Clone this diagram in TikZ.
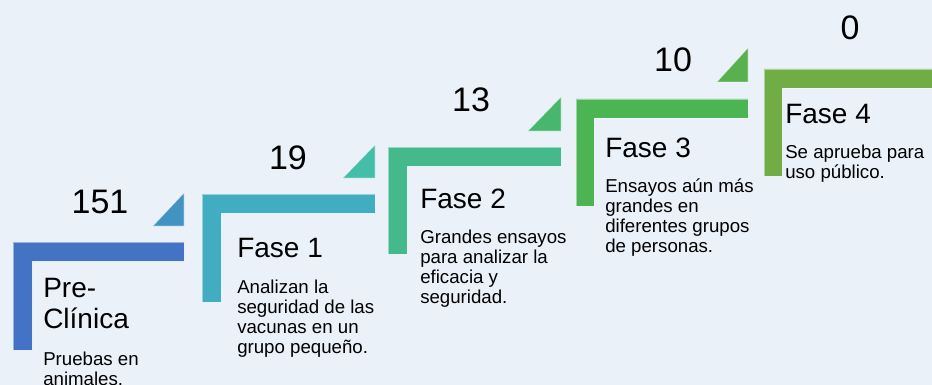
\documentclass[tikz,border=0pt]{standalone}
\usepackage{fontspec}
\setmainfont{Liberation Sans}
\definecolor{bgc}{HTML}{EBF1F9}
\definecolor{barA}{HTML}{4472C4}
\definecolor{triA}{HTML}{4393C2}
\definecolor{barB}{HTML}{42ADC0}
\definecolor{triB}{HTML}{44BDA9}
\definecolor{barC}{HTML}{45B98C}
\definecolor{triC}{HTML}{48B76E}
\definecolor{barD}{HTML}{4DB454}
\definecolor{triD}{HTML}{58B04E}
\definecolor{barE}{HTML}{70AD47}
\tikzset{
  shapeline/.style={draw=white, draw opacity=0.45, line width=0.5pt},
  numtext/.style={anchor=base, inner sep=0pt, font=\fontsize{25.5pt}{28pt}\selectfont},
  titletext/.style={anchor=base west, inner sep=0pt, font=\fontsize{21pt}{23pt}\selectfont},
  smalltext/.style={anchor=base west, inner sep=0pt, font=\fontsize{14pt}{15pt}\selectfont},
}
\begin{document}
\begin{tikzpicture}[x=0.75pt,y=-0.75pt]
\fill[bgc] (0,0) rectangle (932,385);
\useasboundingbox (0,0) rectangle (932,385);
\begin{scope}
\clip (0,0) rectangle (932,385);
% L shapes
\path[fill=barA, shapeline] (13,242) -- (184,242) -- (184,261) -- (32,261) -- (32,350) -- (13,350) -- cycle;
\path[fill=triA, shapeline] (153,226) -- (184,193) -- (184,226) -- cycle;
\path[fill=barB, shapeline] (202,194) -- (375,194) -- (375,213) -- (221,213) -- (221,302) -- (202,302) -- cycle;
\path[fill=triB, shapeline] (343,178) -- (375,145) -- (375,178) -- cycle;
\path[fill=barC, shapeline] (388,147) -- (561,147) -- (561,166) -- (407,166) -- (407,254) -- (388,254) -- cycle;
\path[fill=triC, shapeline] (528,131) -- (561,97) -- (561,131) -- cycle;
\path[fill=barD, shapeline] (576,99) -- (748,99) -- (748,118) -- (594,118) -- (594,206) -- (576,206) -- cycle;
\path[fill=triD, shapeline] (717,82) -- (748,48) -- (748,82) -- cycle;
\path[fill=barE, shapeline] (764,69) -- (940,69) -- (940,88) -- (782,88) -- (782,176) -- (764,176) -- cycle;
% numbers
\node[numtext] (n0) at (100,213) {151};
\node[numtext] (n1) at (288,169) {19};
\node[numtext] (n2) at (471,112) {13};
\node[numtext] (n3) at (673,72) {10};
\node[numtext] (n4) at (850,40) {0};
% titles
\node[titletext] (t0a) at (43,297) {Pre-};
\node[titletext] (t0b) at (43,328) {Clínica};
\node[titletext] (t1) at (237,257) {Fase 1};
\node[titletext] (t2) at (420,208) {Fase 2};
\node[titletext] (t3) at (605,157) {Fase 3};
\node[titletext] (t4) at (785,123) {Fase 4};
% descriptions
\node[smalltext] (d0a) at (43,365) {Pruebas en};
\node[smalltext] (d0b) at (43,385) {animales.};
\node[smalltext] (d1a) at (237,293) {Analizan la};
\node[smalltext] (d1b) at (237,313) {seguridad de las};
\node[smalltext] (d1c) at (237,333) {vacunas en un};
\node[smalltext] (d1d) at (237,353) {grupo pequeño.};
\node[smalltext] (d2a) at (420,243) {Grandes ensayos};
\node[smalltext] (d2b) at (420,263) {para analizar la};
\node[smalltext] (d2c) at (420,283) {eficacia y};
\node[smalltext] (d2d) at (420,303) {seguridad.};
\node[smalltext] (d3a) at (605,192) {Ensayos aún más};
\node[smalltext] (d3b) at (605,212) {grandes en};
\node[smalltext] (d3c) at (605,232) {diferentes grupos};
\node[smalltext] (d3d) at (605,252) {de personas.};
\node[smalltext] (d4a) at (785,158) {Se aprueba para};
\node[smalltext] (d4b) at (785,178) {uso público.};
\end{scope}
\end{tikzpicture}
\end{document}
